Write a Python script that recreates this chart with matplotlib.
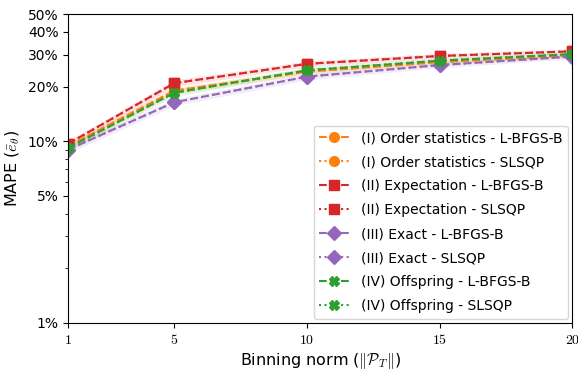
import numpy as np
import matplotlib
matplotlib.use("Agg")
import matplotlib.pyplot as plt
from matplotlib.ticker import FixedLocator, NullFormatter

plt.rcParams.update({
    "font.family": "DejaVu Sans",
    "mathtext.fontset": "cm",
    "font.size": 10,
})

# binning norms
norms = [1, 5, 10, 15, 20]

# MAPE values in percent
order_stats = [9.4, 19.0, 24.2, 27.3, 29.8]
expectation = [9.7, 20.9, 26.7, 29.5, 31.3]
exact = [9.0, 16.4, 22.7, 26.3, 29.3]
offspring = [9.2, 18.5, 24.6, 27.8, 30.2]

# band edges (percent)
order_lo = [9.0, 18.2, 23.3, 26.4, 28.9]
order_hi = [9.8, 19.8, 25.1, 28.2, 30.7]
expect_lo = [9.3, 20.0, 25.7, 28.5, 30.3]
expect_hi = [10.1, 21.8, 27.7, 30.5, 32.3]
exact_lo = [8.6, 15.7, 21.8, 25.4, 28.4]
exact_hi = [9.4, 17.1, 23.6, 27.2, 30.2]
offs_lo = [8.8, 17.7, 23.7, 26.9, 29.3]
offs_hi = [9.6, 19.3, 25.5, 28.7, 31.1]

methods = [
    ("(I) Order statistics", order_stats, order_lo, order_hi, "tab:orange", "o"),
    ("(II) Expectation", expectation, expect_lo, expect_hi, "tab:red", "s"),
    ("(III) Exact", exact, exact_lo, exact_hi, "tab:purple", "D"),
    ("(IV) Offspring", offspring, offs_lo, offs_hi, "tab:green", "X"),
]
solvers = [("L-BFGS-B", "--"), ("SLSQP", ":")]

fig = plt.figure(figsize=(5.78, 3.69), dpi=100)
ax = fig.add_axes([0.118, 0.125, 0.872, 0.836])

x = np.array(norms)
for name, vals, lo, hi, col, mk in methods:
    ax.fill_between(x, np.array(lo) / 100, np.array(hi) / 100, color=col, alpha=0.12, lw=0)
    for solver, ls in solvers:
        ax.plot(x, np.array(vals) / 100, ls, color=col, marker=mk, markersize=7,
                lw=1.5, label=name + " - " + solver)

ax.set_yscale("log")
ax.set_ylim(0.01, 0.5)
ax.set_xlim(1, 20)
yt = [0.01, 0.05, 0.1, 0.2, 0.3, 0.4, 0.5]
ax.yaxis.set_major_locator(FixedLocator(yt))
ax.set_yticklabels(["1%", "5%", "10%", "20%", "30%", "40%", "50%"])
ax.yaxis.set_minor_locator(FixedLocator([0.02, 0.03, 0.04, 0.06, 0.07, 0.08, 0.09]))
ax.yaxis.set_minor_formatter(NullFormatter())
ax.set_xticks(norms)
ax.set_xticklabels(["$%d$" % n for n in norms])
ax.tick_params(labelsize=10)

ax.set_ylabel(r"MAPE ($\bar{e}_\theta$)", fontsize=11.5)
ax.set_xlabel(r"Binning norm ($\Vert\mathcal{P}_T\Vert$)", fontsize=11.5, labelpad=3)
ax.legend(loc="lower right", fontsize=10, handlelength=2.2, labelspacing=0.72,
          borderaxespad=0.3)

fig.savefig("out.png", dpi=100)
